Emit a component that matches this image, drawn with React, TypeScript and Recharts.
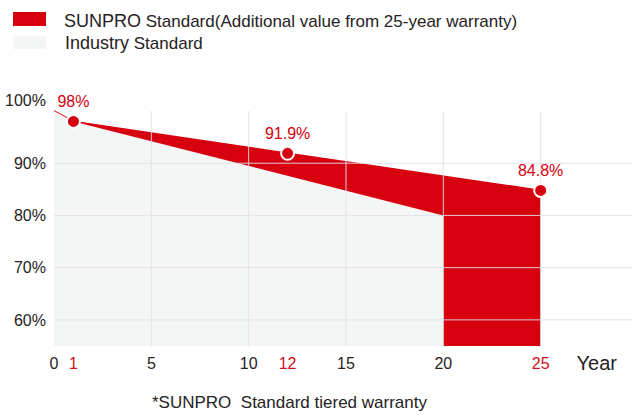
import React from "react";
import {
	ComposedChart,
	Area,
	Line,
	XAxis,
	YAxis,
	ReferenceLine,
	LabelList,
	Label,
} from "recharts";

// SUNPRO tiered warranty (year -> guaranteed output %)
const sunproYears = [0, 1, 12, 25];
const sunproValues = [100, 98, 91.9, 84.8];

// industry standard linear warranty
const industryYears = [0, 1, 20];
const industryValues = [100, 98, 80];

const xTicks = [0, 1, 5, 10, 12, 15, 20, 25];
const yTicks = [60, 70, 80, 90, 100];
const gridYears = [5, 10, 15, 20, 25];
const gridValues = [60, 70, 80, 90];

const RED = "#d7000f";
const TICK_RED = "#cf1020";
const GREY_FILL = "#f4f6f6";
const GRID = "rgba(224,224,232,0.9)";
const TEXT = "#262223";
const FONT = "'Liberation Sans', Arial, Helvetica, sans-serif";

const sunproData = sunproYears.map((year, i) => ({ year, value: sunproValues[i] }));
const industryData = industryYears.map((year, i) => ({ year, value: industryValues[i] }));

const XTick = (props: any) => {
	const { x, y, payload } = props;
	const marked = sunproYears.indexOf(payload.value) > 0;
	return (
		<text
			x={x}
			y={y}
			dy={15}
			textAnchor='middle'
			fontSize={16}
			fontFamily={FONT}
			fill={marked ? TICK_RED : TEXT}>
			{payload.value}
		</text>
	);
};

const YTick = (props: any) => {
	const { x, y, payload } = props;
	// top label sits a little above the plot edge
	const shift = payload.value === 100 ? -11 : 0;
	return (
		<text
			x={x}
			y={y + shift}
			dy={5.7}
			textAnchor='end'
			fontSize={16}
			fontFamily={FONT}
			fill={TEXT}>
			{payload.value}%
		</text>
	);
};

const renderDot = (props: any) => {
	const { cx, cy, index } = props;
	if (index === 0) return <g key={`dot-${index}`} />;
	return (
		<circle
			key={`dot-${index}`}
			cx={cx}
			cy={cy}
			r={6.5}
			fill={RED}
			stroke='#ffffff'
			strokeWidth={2}
		/>
	);
};

const renderValueLabel = (props: any) => {
	const { x, y, value, index } = props;
	if (index === 0) return null;
	return (
		<text
			x={x}
			y={y - 20}
			dy={5.7}
			textAnchor='middle'
			fontSize={16}
			fontFamily={FONT}
			fill={RED}>
			{value}%
		</text>
	);
};

const renderYearLabel = (props: any) => {
	const { viewBox } = props;
	return (
		<text
			x={viewBox.x + viewBox.width - 21}
			y={viewBox.y + 24}
			textAnchor='end'
			fontSize={20}
			fontFamily={FONT}
			fill={TEXT}>
			Year
		</text>
	);
};

export default function App() {
	return (
		<div
			style={{
				position: "absolute",
				left: 0,
				top: 0,
				width: 632,
				height: 418,
				overflow: "hidden",
				background: "#ffffff",
				fontFamily: FONT,
				color: TEXT,
			}}>
			{/* legend */}
			<div style={{ position: "absolute", left: 13, top: 12, width: 33, height: 14, background: RED }} />
			<div style={{ position: "absolute", left: 64, top: 9, lineHeight: "24px", whiteSpace: "nowrap" }}>
				<span style={{ fontSize: 18 }}>SUNPRO</span>
				<span style={{ fontSize: 17 }}> Standard(Additional value from 25-year warranty)</span>
			</div>
			<div style={{ position: "absolute", left: 13, top: 36, width: 33, height: 13, background: GREY_FILL }} />
			<div style={{ position: "absolute", left: 65, top: 31, lineHeight: "24px", whiteSpace: "nowrap" }}>
				<span style={{ fontSize: 18 }}>Industry</span>
				<span style={{ fontSize: 17 }}> Standard</span>
			</div>

			<div style={{ position: "absolute", left: 0, top: 0 }}>
				<ComposedChart
					width={640}
					height={418}
					margin={{ top: 111, right: 2, bottom: 42, left: 0 }}>
					<XAxis
						dataKey='year'
						type='number'
						domain={[0, 30]}
						ticks={xTicks}
						interval={0}
						axisLine={false}
						tickLine={false}
						height={30}
						tick={<XTick />}>
						<Label content={renderYearLabel} />
					</XAxis>
					<YAxis
						type='number'
						domain={[55, 100]}
						ticks={yTicks}
						interval={0}
						axisLine={false}
						tickLine={false}
						width={54}
						tick={<YTick />}
					/>
					<Area
						data={sunproData}
						dataKey='value'
						type='linear'
						fill={RED}
						fillOpacity={1}
						stroke={RED}
						strokeWidth={1.5}
						dot={false}
						activeDot={false}
						isAnimationActive={false}
					/>
					<Area
						data={industryData}
						dataKey='value'
						type='linear'
						fill={GREY_FILL}
						fillOpacity={1}
						stroke='none'
						dot={false}
						activeDot={false}
						isAnimationActive={false}
					/>
					{gridValues.map((v) => (
						<ReferenceLine key={`h-${v}`} y={v} stroke={GRID} strokeWidth={1} />
					))}
					{gridYears.map((yr) => (
						<ReferenceLine key={`v-${yr}`} x={yr} stroke={GRID} strokeWidth={1} />
					))}
					<Line
						data={sunproData}
						dataKey='value'
						type='linear'
						stroke='none'
						dot={renderDot}
						activeDot={false}
						isAnimationActive={false}>
						<LabelList dataKey='value' content={renderValueLabel} />
					</Line>
				</ComposedChart>
			</div>

			{/* footnote */}
			<div
				style={{
					position: "absolute",
					left: 152,
					top: 391,
					lineHeight: "24px",
					fontSize: 17,
					whiteSpace: "pre",
				}}>
				{"*SUNPRO  Standard tiered warranty"}
			</div>
		</div>
	);
}
